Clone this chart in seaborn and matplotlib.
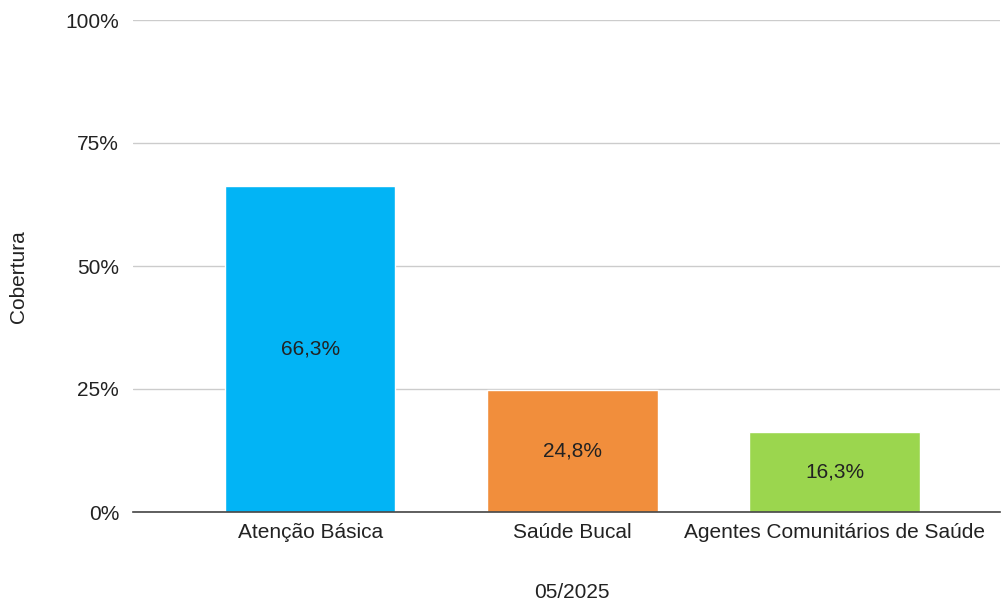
import matplotlib.pyplot as plt
import seaborn as sns
import pandas as pd
from matplotlib.ticker import FuncFormatter

categorias = ["Atenção Básica", "Saúde Bucal", "Agentes Comunitários de Saúde"]
cobertura = [66.3, 24.8, 16.3]
cores = ["#02B4F5", "#F18E3C", "#9BD64E"]
yticks = [0, 25, 50, 75, 100]

sns.set_theme(style="white")
plt.rcParams["font.family"] = ["Liberation Sans", "DejaVu Sans"]
FS = 15
TXT = "#222222"

df = pd.DataFrame({"categoria": categorias, "cobertura": cobertura})

fig = plt.figure(figsize=(10.01, 6.04), dpi=100)
ax = fig.add_axes([133 / 1001, 1 - 512 / 604, (1000 - 133) / 1001, (512 - 20) / 604])

sns.barplot(data=df, x="categoria", y="cobertura", hue="categoria",
            palette=cores, width=0.65, legend=False, ax=ax, saturation=1)

for i, v in enumerate(cobertura):
    ax.text(i, v / 2, f"{v:.1f}%".replace(".", ","), ha="center", va="center",
            fontsize=FS, color=TXT)

ax.set_ylim(0, 100)
ax.set_xlim(-0.675, 2.63)
ax.set_yticks(yticks)
ax.yaxis.set_major_formatter(FuncFormatter(lambda v, p: f"{v:.0f}%"))
ax.grid(axis="y", color="#cccccc", linewidth=1)
ax.set_axisbelow(True)
for s in ["top", "right", "left"]:
    ax.spines[s].set_visible(False)
ax.spines["bottom"].set_color("#444444")
ax.spines["bottom"].set_linewidth(1.2)
ax.tick_params(axis="both", length=0, labelsize=FS, colors=TXT)
ax.tick_params(axis="y", pad=10)
ax.tick_params(axis="x", pad=8)

ax.set_ylabel("Cobertura", fontsize=FS, color=TXT)
ax.yaxis.set_label_coords(-0.121, 0.478)
ax.set_xlabel("05/2025", fontsize=FS, color=TXT)
ax.xaxis.set_label_coords(0.506, -0.144)

fig.savefig("out.png", dpi=100)
